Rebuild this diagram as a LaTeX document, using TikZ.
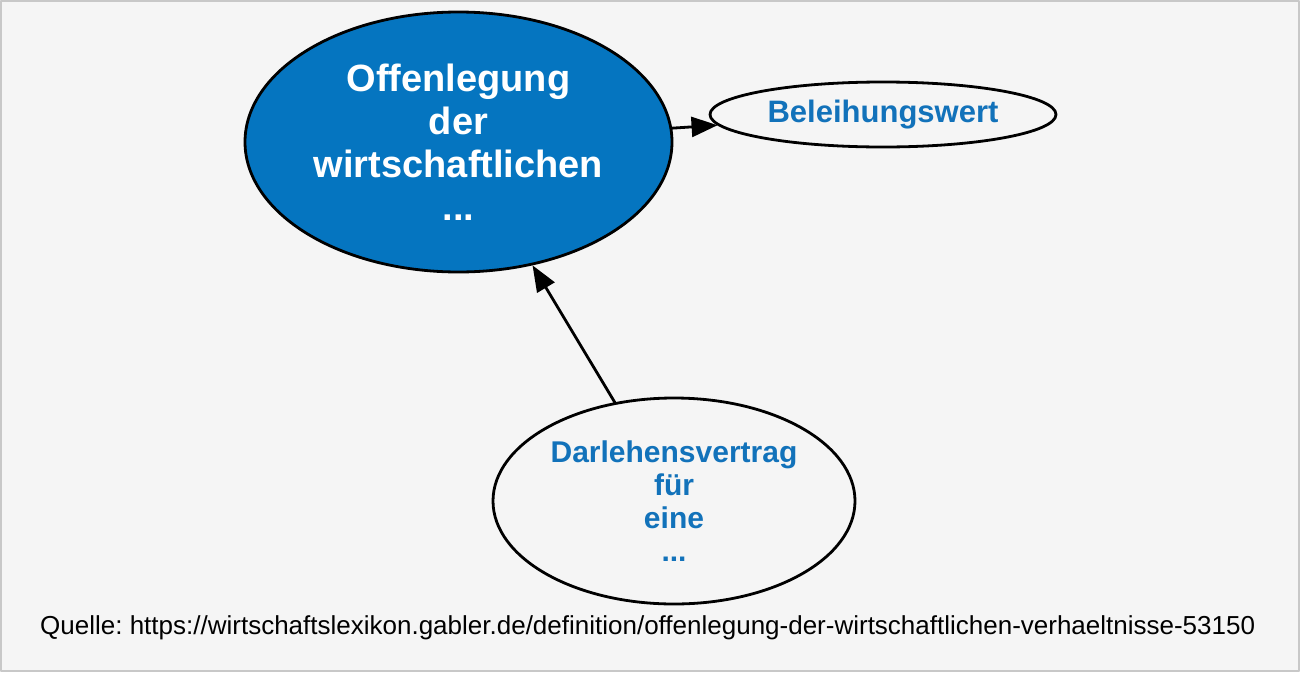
\documentclass[tikz,border=0pt]{standalone}
\usepackage{fontspec}
\setmainfont{Liberation Sans}
\usetikzlibrary{shapes.geometric,arrows.meta}
\definecolor{bgray}{HTML}{F5F5F5}
\definecolor{frame}{HTML}{C8C8C8}
\definecolor{gblue}{HTML}{0575C0}
\definecolor{tblue}{HTML}{1272BA}
\frenchspacing
\begin{document}
\begin{tikzpicture}[x=1pt,y=-1pt,line cap=round,line join=round,
    topic/.style={ellipse,draw=black,line width=2.8pt,inner sep=0pt,align=center,font=\bfseries},
    edge/.style={line width=2.8pt,-{Triangle[length=26pt,width=20pt]}}]
        \fill[bgray] (0,0) rectangle (1300,672);
        \draw[frame,line width=2pt] (1,1) rectangle (1299,671);
        \useasboundingbox (0,0) rectangle (1300,672);
        \node[topic,fill=gblue,text=white,minimum width=427pt,minimum height=260pt,
          font=\bfseries\fontsize{38}{43}\selectfont] (main) at (458.5,142)
          {Offenlegung\\der\\wirtschaftlichen\\...};
        \node[topic,text=tblue,minimum width=346pt,minimum height=65pt,
          font=\bfseries\fontsize{31}{33}\selectfont] (wert) at (883,114.5) {Beleihungswert};
        \node[topic,text=tblue,minimum width=362pt,minimum height=206pt,
          font=\bfseries\fontsize{30}{33}\selectfont] (darl) at (674,501)
          {Darlehensvertrag\\f\"ur\\eine\\...};
        \node[font=\fontsize{26}{30}\selectfont,anchor=west,inner sep=0pt] (quelle) at (40,628)
          {Quelle: https://wirtschaftslexikon.gabler.de/definition/offenlegung-der-wirtschaftlichen-verhaeltnisse-53150};
        
        \draw[edge] (main) -- (wert);
        \draw[edge] (darl) -- (main);
      \end{tikzpicture}
\end{document}
